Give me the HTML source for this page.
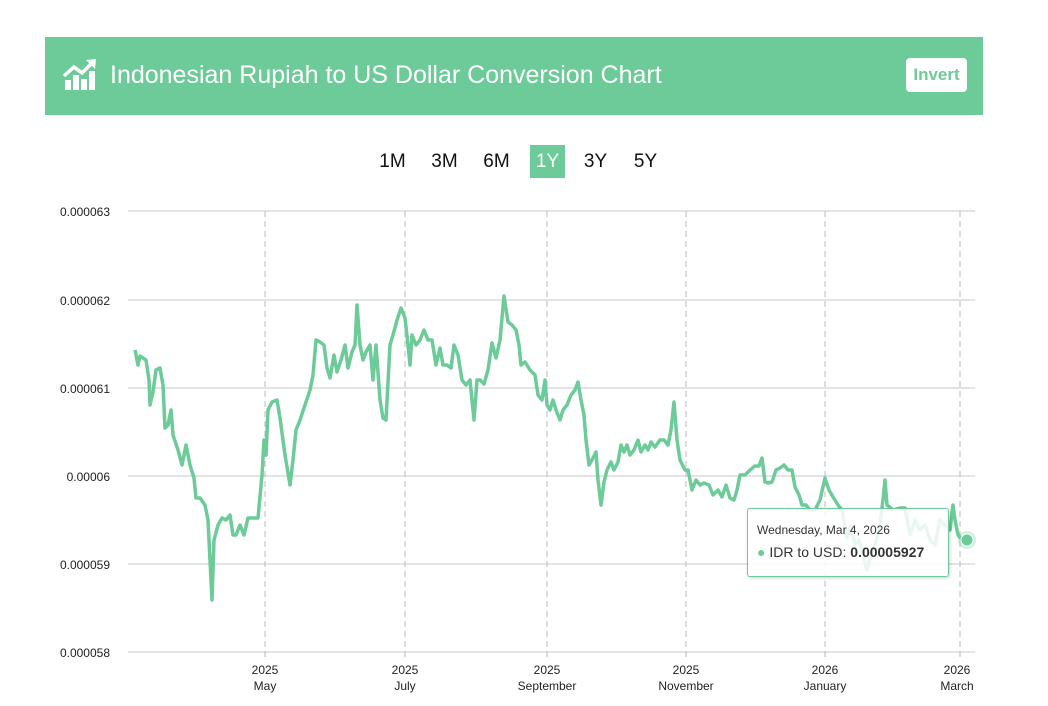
<!DOCTYPE html>
<html><head><style>
body{margin:0;background:#fff;width:1048px;height:706px;overflow:hidden;font-family:"Liberation Sans",Arial,sans-serif;position:relative}
.hdr{position:absolute;left:45px;top:37px;width:938px;height:78px;background:#6ccb98}
.title{position:absolute;left:110px;top:61px;color:#fff;font-size:25px}
.inv{position:absolute;left:906px;top:58px;width:61px;height:34px;background:#fff;border-radius:4px;color:#6ccb98;font-weight:bold;font-size:17px;text-align:center;line-height:34px}
.per{position:absolute;top:145px;height:33px;line-height:33px;font-size:19px;color:#111;text-align:center;width:35px}
.tt{position:absolute;left:747px;top:508px;width:200px;height:67px;background:rgba(255,255,255,0.85);border:1px solid #6ccb98;border-radius:3px;box-shadow:1px 1px 3px rgba(0,0,0,.2)}
</style></head><body>
<div class="hdr"></div>
<svg style="position:absolute;left:62px;top:58px" width="36" height="32" viewBox="0 0 36 32">
<path d="M2 18 L12 9 L20 15 L31 4" stroke="#fff" stroke-width="3.5" fill="none"/><path d="M24 2 L34 1 L33 11 Z" fill="#fff"/>
<rect x="3" y="22" width="6" height="10" fill="#fff"/><rect x="11" y="17" width="6" height="15" fill="#fff"/><rect x="19" y="21" width="6" height="11" fill="#fff"/><rect x="27" y="13" width="6" height="19" fill="#fff"/></svg>
<div class="title">Indonesian Rupiah to US Dollar Conversion Chart</div>
<div class="inv">Invert</div>
<div class="per" style="left:375px">1M</div><div class="per" style="left:427px">3M</div><div class="per" style="left:479px">6M</div>
<div class="per" style="left:530px;background:#6ccb98;color:#fff">1Y</div><div class="per" style="left:578px">3Y</div><div class="per" style="left:628px">5Y</div>
<svg style="position:absolute;left:0;top:0" width="1048" height="706" font-family="Liberation Sans,Arial,sans-serif">
<g stroke="#c8c8c8" stroke-width="1">
<line x1="128" x2="975" y1="211" y2="211"/><line x1="128" x2="975" y1="300" y2="300"/><line x1="128" x2="975" y1="388" y2="388"/><line x1="128" x2="975" y1="476" y2="476"/><line x1="128" x2="975" y1="564" y2="564"/><line x1="128" x2="975" y1="652" y2="652"/>
</g>
<g stroke="#bbb" stroke-dasharray="6,4"><line x1="265" x2="265" y1="211" y2="660"/><line x1="405" x2="405" y1="211" y2="660"/><line x1="547" x2="547" y1="211" y2="660"/><line x1="686" x2="686" y1="211" y2="660"/><line x1="825" x2="825" y1="211" y2="660"/><line x1="960" x2="960" y1="211" y2="660"/></g>
<g font-size="12" fill="#222" text-anchor="end"><text x="110" y="216">0.000063</text><text x="110" y="305">0.000062</text><text x="110" y="393">0.000061</text><text x="110" y="481">0.00006</text><text x="110" y="569">0.000059</text><text x="110" y="657">0.000058</text></g>
<g font-size="12" fill="#222" text-anchor="middle">
<text x="265" y="674">2025</text><text x="265" y="690">May</text><text x="405" y="674">2025</text><text x="405" y="690">July</text><text x="547" y="674">2025</text><text x="547" y="690">September</text><text x="686" y="674">2025</text><text x="686" y="690">November</text><text x="825" y="674">2026</text><text x="825" y="690">January</text><text x="957" y="674">2026</text><text x="957" y="690">March</text></g>
<polyline fill="none" stroke="#6ccb98" stroke-width="3.5" stroke-linejoin="round" points="135,350 138,365 140,356 146,360 149,380 150,405 153,392 156,370 160,368 163,385 165,428 168,425 171,410 173,435 178,450 182,465 186,445 190,465 194,478 196,498 200,498 205,505 208,520 210,560 212,600 214,540 218,525 222,518 226,520 230,515 233,535 236,535 240,525 244,535 248,518 252,518 258,518 262,475 264,440 266,455 268,410 272,402 277,400 280,418 285,455 290,485 293,460 296,430 300,420 305,405 310,390 313,375 316,340 320,342 324,345 327,368 330,378 334,355 337,372 341,360 345,345 348,368 352,352 355,345 357,305 360,345 363,360 366,352 370,345 373,380 376,345 380,400 383,418 386,420 390,345 393,335 397,320 401,308 405,318 408,345 410,365 412,335 416,345 420,340 424,330 428,340 432,340 436,365 440,348 443,365 447,365 451,368 454,345 458,355 462,380 466,385 470,380 474,420 477,380 480,380 484,384 488,370 492,343 496,358 500,340 504,296 508,322 512,325 516,330 519,345 521,365 525,362 530,370 535,375 538,395 542,400 545,380 547,405 550,410 553,400 556,410 560,420 563,410 567,405 571,395 575,390 578,382 581,400 584,415 586,440 589,465 592,460 596,452 598,480 601,505 604,482 607,470 611,462 614,470 618,462 621,445 624,452 627,445 630,455 634,450 638,440 641,452 645,445 648,450 651,442 655,447 660,440 664,440 668,445 671,430 674,402 677,440 680,460 685,470 688,470 692,490 696,480 700,485 704,483 709,485 713,495 718,490 722,497 726,485 730,498 734,500 737,490 740,475 745,475 750,470 755,466 759,466 762,458 765,482 768,483 772,482 776,470 780,468 784,465 788,470 792,470 795,487 799,495 802,505 806,505 810,510 815,510 820,500 825,478 829,490 833,497 838,505 842,510 847,538 851,525 855,545 859,540 863,555 867,570 871,555 875,545 879,530 883,500 885,480 887,505 893,510 900,508 905,508 910,535 915,520 920,530 925,525 930,540 935,545 940,520 945,525 950,530 953,505 955,520 958,535 962,540 966,540"/>
<circle cx="967" cy="540" r="9" fill="#6ccb98" opacity="0.3"/><circle cx="967" cy="540" r="6" fill="#6ccb98" stroke="#fff" stroke-width="1"/>
</svg>
<div class="tt">
<div style="position:absolute;left:9px;top:14px;font-size:12px;color:#333">Wednesday, Mar 4, 2026</div>
<div style="position:absolute;left:9px;top:35px;font-size:14px;color:#333"><span style="color:#6ccb98">●</span> IDR to USD: <b>0.00005927</b></div>
</div>
</body></html>
